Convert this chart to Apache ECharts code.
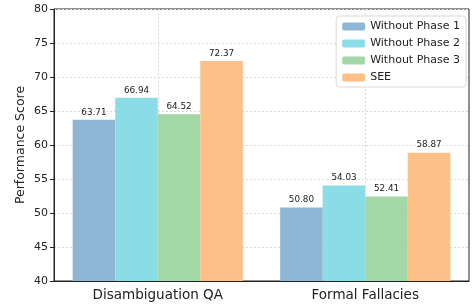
<!DOCTYPE html>
<html>
<head>
<meta charset="utf-8">
<script src="https://cdn.jsdelivr.net/npm/echarts@6/dist/echarts.min.js"></script>
<style>
  html, body { margin: 0; padding: 0; background: #fff; }
  #chart { width: 473px; height: 305px; }
</style>
</head>
<body>
<div id="chart"></div>
<script>
const categories = ['Disambiguation QA', 'Formal Fallacies'];
const seriesNames = ['Without Phase 1', 'Without Phase 2', 'Without Phase 3', 'SEE'];
const phase1 = [63.71, 50.80];
const phase2 = [66.94, 54.03];
const phase3 = [64.52, 52.41];
const see = [72.37, 58.87];
const colors = ['#8fb6d4', '#8adde6', '#a3d7a6', '#fdc087'];

const font = 'DejaVu Sans';
const chart = echarts.init(document.getElementById('chart'));

const makeSeries = (name, data, i) => ({
    name: name,
    type: 'bar',
    data: data,
    barGap: '0%',
    barCategoryGap: '18%',
    itemStyle: { color: colors[i] },
    label: {
        show: true,
        position: 'top',
        distance: 3,
        fontSize: 8.8,
        fontFamily: font,
        color: '#222',
        formatter: (p) => p.value.toFixed(2)
    }
});

const option = {
    animation: false,
    textStyle: { fontFamily: font },
    grid: {
        left: 54, right: 4, top: 9, bottom: 24,
        show: true,
        borderColor: '#222',
        borderWidth: 1
    },
    legend: {
        orient: 'vertical',
        right: 7,
        top: 16,
        itemWidth: 23,
        itemHeight: 8,
        itemGap: 6,
        padding: [5, 6, 4, 6],
        backgroundColor: '#fff',
        borderColor: '#d8d8d8',
        borderWidth: 1,
        borderRadius: 3,
        textStyle: { fontSize: 11, fontFamily: font, color: '#222' },
        data: seriesNames
    },
    xAxis: [
        {
            type: 'category',
            data: categories,
            axisLine: { lineStyle: { color: '#222' } },
            axisTick: { alignWithLabel: true, length: 4, lineStyle: { color: '#222' } },
            axisLabel: { fontSize: 13.5, color: '#222', margin: 7 },
            splitLine: { show: false }
        },
        {
            // hidden helper axis to draw vertical grid lines at category centers
            type: 'category',
            boundaryGap: false,
            data: ['', '', '', '', ''],
            position: 'bottom',
            axisLine: { show: false },
            axisTick: { show: false },
            axisLabel: { show: false },
            splitLine: {
                show: true,
                interval: (idx) => idx === 1 || idx === 3,
                lineStyle: { color: '#d8d8d8', type: [2, 2], width: 1 }
            }
        }
    ],
    yAxis: {
        type: 'value',
        min: 40,
        max: 80,
        interval: 5,
        name: 'Performance Score',
        nameLocation: 'middle',
        nameGap: 27,
        nameMoveOverlap: false,
        nameTextStyle: { fontSize: 12.5, color: '#222' },
        axisLine: { show: true, lineStyle: { color: '#222' } },
        axisTick: { show: true, length: 4, lineStyle: { color: '#222' } },
        axisLabel: { fontSize: 11, color: '#222', margin: 6 },
        splitLine: { lineStyle: { color: '#d8d8d8', type: [2, 2], width: 1 } }
    },
    series: [
        makeSeries(seriesNames[0], phase1, 0),
        makeSeries(seriesNames[1], phase2, 1),
        makeSeries(seriesNames[2], phase3, 2),
        makeSeries(seriesNames[3], see, 3)
    ]
};
chart.setOption(option);
</script>
</body>
</html>
